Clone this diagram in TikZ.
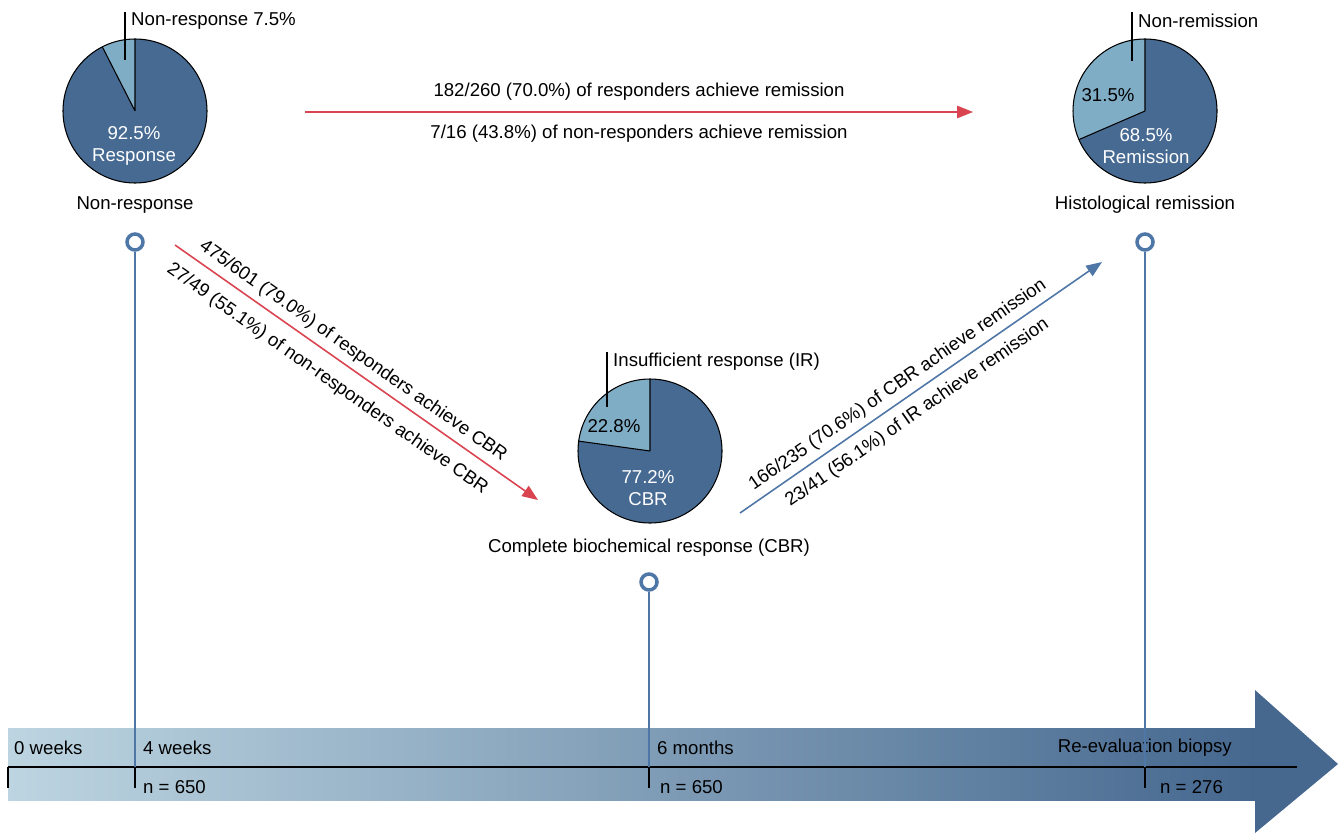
\documentclass[tikz,border=0pt]{standalone}
\usepackage{fontspec}
\setmainfont{Liberation Sans}
\usetikzlibrary{arrows.meta}
\definecolor{pieDark}{RGB}{71,106,146}
\definecolor{pieLight}{RGB}{128,173,198}
\definecolor{arrRed}{RGB}{217,68,80}
\definecolor{arrBlue}{RGB}{78,118,166}
\definecolor{barLight}{RGB}{189,213,225}
\definecolor{barDark}{RGB}{70,104,143}
\begin{document}
\begin{tikzpicture}[x=0.02cm,y=0.02cm,
  every node/.style={font=\fontsize{10.6}{12.5}\selectfont},
  pieEdge/.style={draw=black,line width=0.6pt},
  redArr/.style={draw=arrRed,line width=0.9pt,-{Triangle[length=9pt,width=7pt]}},
  blueArr/.style={draw=arrBlue,line width=0.9pt,-{Triangle[length=9pt,width=7pt]}},
  marker/.style={circle,draw=arrBlue,fill=white,line width=2pt,minimum size=0.32cm,inner sep=0pt},
  stem/.style={draw=arrBlue,line width=1.5pt}]
\useasboundingbox (0,0) rectangle (1341,833);
% time bar
\shade[left color=barLight,right color=barDark] (8,33) rectangle (1255,105);
\fill[barDark] (1255,143) -- (1338,69) -- (1255,0) -- cycle;
\coordinate (t0) at (8,66);
\coordinate (t1) at (135,66);
\coordinate (t2) at (649,66);
\coordinate (t3) at (1145,66);
\coordinate (tend) at (1297,66);
\draw[line width=0.6pt] (t0) -- (tend);
\foreach \t in {t0,t1,t2,t3} \draw[line width=0.6pt] (\t) -- ++(0,-21);
\node[anchor=west] (w0) at (8,85) {0 weeks};
\node[anchor=west] (w4) at (137,85) {4 weeks};
\node[anchor=west] (m6) at (651,85) {6 months};
\node[anchor=east] (rb) at (1238,85) {Re-evaluation biopsy};
\node[anchor=west] (n1) at (137,46) {n = 650};
\node[anchor=west] (n2) at (654,46) {n = 650};
\node[anchor=west] (n3) at (1154,46) {n = 276};
% pie at 4 weeks
\coordinate (p1) at (135,722);
\fill[pieDark] (p1) circle (72);
\fill[pieLight] (p1) -- ++(90:72) arc (90:117:72) -- cycle;
\draw[pieEdge] (p1) circle (72);
\draw[pieEdge] (p1) -- ++(90:72) (p1) -- ++(117:72);
\draw[line width=0.6pt] (125,821) -- (125,773);
\node[anchor=west] (nr) at (125,812) {Non-response 7.5\%};
\node[white,align=center] (rsp) at (134,687) {92.5\%\\Response};
\node (l1) at (135,628) {Non-response};
\node[marker] (mk1) at (135,591) {};
% pie at 6 months
\coordinate (p2) at (650,382);
\fill[pieDark] (p2) circle (72);
\fill[pieLight] (p2) -- ++(90:72) arc (90:172.1:72) -- cycle;
\draw[pieEdge] (p2) circle (72);
\draw[pieEdge] (p2) -- ++(90:72) (p2) -- ++(172.1:72);
\draw[line width=0.6pt] (607,481) -- (607,426);
\node[anchor=west] (ir) at (607,471) {Insufficient response (IR)};
\node (irp) at (614,407) {22.8\%};
\node[white,align=center] (cbr) at (648,345) {77.2\%\\CBR};
\node (l2) at (649,285) {Complete biochemical response (CBR)};
\node[marker] (mk2) at (649,251) {};
% pie at biopsy
\coordinate (p3) at (1145,722);
\fill[pieDark] (p3) circle (72);
\fill[pieLight] (p3) -- ++(90:72) arc (90:203.4:72) -- cycle;
\draw[pieEdge] (p3) circle (72);
\draw[pieEdge] (p3) -- ++(90:72) (p3) -- ++(203.4:72);
\draw[line width=0.6pt] (1132,821) -- (1132,772);
\node[anchor=west] (nrm) at (1132,812) {Non-remission};
\node (nrp) at (1108,738) {31.5\%};
\node[white,align=center] (rem) at (1146,687) {68.5\%\\Remission};
\node (l3) at (1145,628) {Histological remission};
\node[marker] (mk3) at (1145,591) {};
% stems down to the time bar
\draw[stem] (mk1.south) -- (t1);
\draw[stem] (mk2.south) -- (t2);
\draw[stem] (mk3.south) -- (t3);
% transitions
\coordinate (h1) at (305,721);
\coordinate (h2) at (973,721);
\draw[redArr] (h1) -- (h2)
  node[midway,above=3pt] {182/260 (70.0\%) of responders achieve remission}
  node[midway,below=3.5pt] {7/16 (43.8\%) of non-responders achieve remission};
\coordinate (d1) at (175,588);
\coordinate (d2) at (538,333);
\draw[redArr] (d1) -- (d2)
  node[pos=0.466,sloped,above=0pt] {475/601 (79.0\%) of responders achieve CBR}
  node[pos=0.455,sloped,below=4pt] {27/49 (55.1\%) of non-responders achieve CBR};
\coordinate (u1) at (740,320);
\coordinate (u2) at (1102,571);
\draw[blueArr] (u1) -- (u2)
  node[pos=0.46,sloped,above=0pt] {166/235 (70.6\%) of CBR achieve remission}
  node[pos=0.46,sloped,below=2pt] {23/41 (56.1\%) of IR achieve remission};
\end{tikzpicture}
\end{document}
